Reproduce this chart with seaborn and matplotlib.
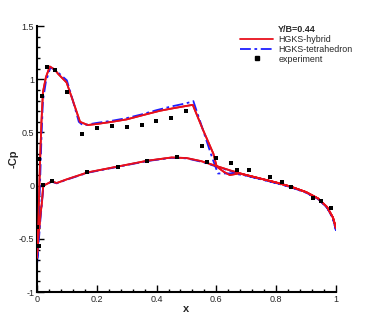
import pandas as pd
import numpy as np
import matplotlib
matplotlib.use("Agg")
import matplotlib.pyplot as plt
from matplotlib.ticker import MultipleLocator, FuncFormatter
from matplotlib.lines import Line2D
import seaborn as sns

# HGKS-hybrid, upper and lower surface
hyb_up_x = [0.0, 0.005, 0.01, 0.015, 0.02, 0.03, 0.043, 0.06, 0.071, 0.085, 0.099, 0.12, 0.144, 0.17,
            0.2, 0.25, 0.3, 0.35, 0.411, 0.46, 0.521, 0.556, 0.59, 0.601, 0.625, 0.645, 0.675,
            0.7, 0.75, 0.8, 0.85, 0.9, 0.94, 0.97, 0.99, 1.0]
hyb_up_y = [-0.68, -0.3, 0.2, 0.6, 0.88, 1.02, 1.12, 1.09, 1.05, 1.01, 0.97, 0.8, 0.6, 0.57,
            0.58, 0.6, 0.623, 0.66, 0.704, 0.73, 0.76, 0.52, 0.30, 0.18, 0.13, 0.10, 0.115,
            0.1, 0.065, 0.03, -0.01, -0.06, -0.12, -0.2, -0.3, -0.4]
hyb_lo_x = [0.0, 0.004, 0.008, 0.012, 0.016, 0.021, 0.032, 0.049, 0.066, 0.1, 0.17, 0.27, 0.37,
            0.45, 0.5, 0.55, 0.6, 0.65, 0.7, 0.75, 0.8, 0.85, 0.9, 0.94, 0.97, 0.99, 1.0]
hyb_lo_y = [-0.68, -0.5, -0.39, -0.27, -0.17, 0.0, 0.015, 0.04, 0.025, 0.06, 0.125, 0.18, 0.235,
            0.265, 0.26, 0.23, 0.185, 0.14, 0.1, 0.065, 0.03, -0.01, -0.06, -0.12, -0.2, -0.3, -0.4]

# HGKS-tetrahedron
tet_up_x = [0.0, 0.005, 0.01, 0.015, 0.02, 0.03, 0.045, 0.06, 0.08, 0.1, 0.12, 0.14, 0.155, 0.17,
            0.2, 0.25, 0.3, 0.35, 0.4, 0.45, 0.5, 0.523, 0.545, 0.565, 0.585, 0.605, 0.625, 0.655,
            0.7, 0.75, 0.8, 0.85, 0.9, 0.94, 0.97, 0.99, 1.0]
tet_up_y = [-0.75, -0.45, 0.0, 0.45, 0.8, 0.98, 1.11, 1.09, 1.04, 0.99, 0.8, 0.6, 0.565, 0.575,
            0.59, 0.61, 0.635, 0.67, 0.71, 0.745, 0.775, 0.795, 0.61, 0.44, 0.27, 0.115, 0.115, 0.115,
            0.095, 0.06, 0.025, -0.015, -0.065, -0.125, -0.205, -0.31, -0.42]
tet_lo_x = [0.0, 0.004, 0.008, 0.012, 0.016, 0.022, 0.032, 0.049, 0.066, 0.1, 0.17, 0.27, 0.37,
            0.45, 0.5, 0.55, 0.6, 0.65, 0.7, 0.75, 0.8, 0.85, 0.9, 0.94, 0.97, 0.99, 1.0]
tet_lo_y = [-0.75, -0.6, -0.45, -0.3, -0.18, 0.0, 0.012, 0.038, 0.022, 0.057, 0.122, 0.177, 0.232,
            0.262, 0.257, 0.225, 0.18, 0.135, 0.095, 0.06, 0.025, -0.015, -0.065, -0.125, -0.205, -0.31, -0.42]

# experiment
exp_x = [0.001, 0.006, 0.008, 0.018, 0.021, 0.034, 0.049, 0.060, 0.101, 0.149, 0.168, 0.201,
         0.251, 0.27, 0.300, 0.350, 0.369, 0.399, 0.449, 0.468, 0.500, 0.551, 0.57, 0.599,
         0.650, 0.669, 0.71, 0.779, 0.818, 0.851, 0.922, 0.95, 0.984]
exp_cp = [-0.39, -0.57, 0.25, 0.84, 0.006, 1.12, 0.043, 1.09, 0.88, 0.485, 0.128, 0.54,
          0.56, 0.178, 0.55, 0.575, 0.234, 0.61, 0.64, 0.266, 0.70, 0.375, 0.225, 0.26,
          0.21, 0.147, 0.147, 0.078, 0.034, -0.01, -0.114, -0.142, -0.21]


def wrap(up_x, up_y, lo_x, lo_y):
    # trailing edge -> leading edge along upper, then back along lower
    return list(up_x[::-1]) + list(lo_x), list(up_y[::-1]) + list(lo_y)


rows = []
for name, (ux, uy, lx, ly) in [("HGKS-hybrid", (hyb_up_x, hyb_up_y, hyb_lo_x, hyb_lo_y)),
                               ("HGKS-tetrahedron", (tet_up_x, tet_up_y, tet_lo_x, tet_lo_y))]:
    xs, ys = wrap(ux, uy, lx, ly)
    for a, b in zip(xs, ys):
        rows.append({"x": a, "cp": b, "method": name})
lines = pd.DataFrame(rows)
exp = pd.DataFrame({"x": exp_x, "cp": exp_cp})

sns.set_style("ticks")
plt.rcParams["font.family"] = ["Liberation Sans", "DejaVu Sans"]

fig = plt.figure(figsize=(3.66, 3.26), dpi=100)
ax = fig.add_axes([0.101, 0.104, 0.817, 0.816])

palette = {"HGKS-hybrid": "#e8101c", "HGKS-tetrahedron": "#1f1fff"}
dashes = {"HGKS-hybrid": "", "HGKS-tetrahedron": (6, 2, 1.5, 2)}
sns.lineplot(data=lines, x="x", y="cp", hue="method", style="method", palette=palette,
             dashes=dashes, sort=False, estimator=None, units="method", lw=1.3, ax=ax, legend=False)
# hybrid drawn again on top, as in the reference
hy = lines[lines.method == "HGKS-hybrid"]
ax.plot(hy.x, hy.cp, color=palette["HGKS-hybrid"], lw=1.3, zorder=3)
sns.scatterplot(data=exp, x="x", y="cp", marker="s", color="black", s=12, linewidth=0,
                ax=ax, zorder=4)

ax.set_xlim(0, 1)
ax.set_ylim(-1, 1.5)
ax.xaxis.set_major_locator(MultipleLocator(0.2))
ax.xaxis.set_minor_locator(MultipleLocator(0.04))
ax.yaxis.set_major_locator(MultipleLocator(0.5))
ax.yaxis.set_minor_locator(MultipleLocator(0.1))
fmt = FuncFormatter(lambda v, p: ("%g" % round(v, 2)))
ax.xaxis.set_major_formatter(fmt)
ax.yaxis.set_major_formatter(fmt)
ax.tick_params(which="both", direction="in", width=1, labelsize=6.5, pad=2, color="black")
ax.tick_params(which="major", length=5)
ax.tick_params(which="minor", length=2.5)
sns.despine(ax=ax)
for s in ["left", "bottom"]:
    ax.spines[s].set_linewidth(1.5)
    ax.spines[s].set_color("black")

ax.set_xlabel("x", fontsize=8, fontweight="bold", labelpad=0)
ax.set_ylabel("-Cp", fontsize=8, fontweight="bold", labelpad=0)

handles = [Line2D([], [], color=palette["HGKS-hybrid"], lw=1.3),
           Line2D([], [], color=palette["HGKS-tetrahedron"], lw=1.3, dashes=(6, 2, 1.5, 2)),
           Line2D([], [], color="black", marker="s", ms=3.5, lw=0)]
leg = fig.legend(handles, ["HGKS-hybrid", "HGKS-tetrahedron", "experiment"],
                 title="Y/B=0.44", loc="upper left", bbox_to_anchor=(236 / 366, 1 - 21 / 326),
                 frameon=False, fontsize=6.4, title_fontproperties={"size": 6.5, "weight": "bold"},
                 handlelength=3.7, handletextpad=0.6, labelspacing=0.08, borderpad=0)

fig.savefig("out.png", dpi=100)
